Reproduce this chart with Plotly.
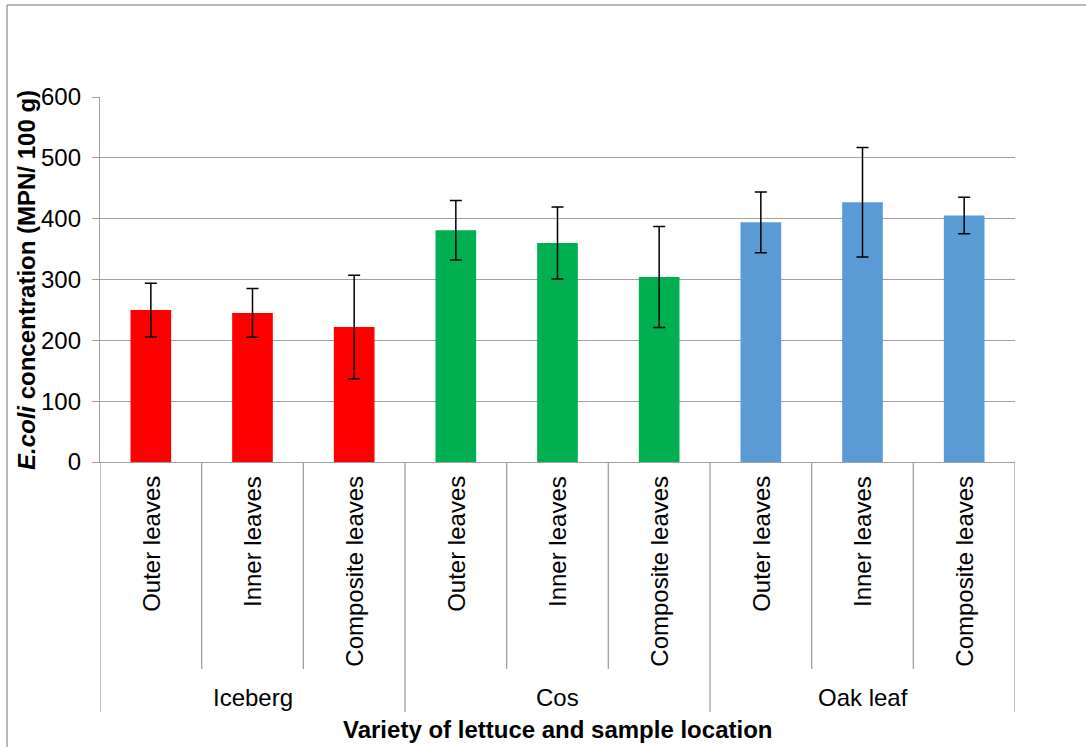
import plotly.graph_objects as go

# ---- data ----
varieties = ["Iceberg", "Cos", "Oak leaf"]
locations = ["Outer leaves", "Inner leaves", "Composite leaves"]
iceberg_means = [250, 245, 222]
iceberg_err = [44, 40, 85]
cos_means = [381, 360, 304]
cos_err = [49, 59, 83]
oak_means = [394, 427, 405]
oak_err = [50, 90, 30]
y_ticks = [0, 100, 200, 300, 400, 500, 600]

# ---- styles ----
variety_colors = {"Iceberg": "#FF0000", "Cos": "#00B050", "Oak leaf": "#5B9BD5"}
GRID = "#A0A0A0"
FONT = "Liberation Sans, Arial, sans-serif"
FS = 24

# plot area in pixels
W, H = 1086, 747
L, R, T, B = 100, 1015, 97, 462


def px_x(px):
    return (px - L) / (R - L)


def px_y(py):
    return (B - py) / (B - T)


series = [iceberg_means, cos_means, oak_means]
errs = [iceberg_err, cos_err, oak_err]

fig = go.Figure()
n_loc = len(locations)
for gi, (var, means, err) in enumerate(zip(varieties, series, errs)):
    xs = [gi * n_loc + li for li in range(n_loc)]
    fig.add_trace(go.Bar(
        x=xs, y=means, width=0.4,
        marker=dict(color=variety_colors[var], line=dict(width=0)),
        error_y=dict(type="data", array=err, visible=True, color="black",
                     thickness=1.5, width=6),
        showlegend=False, name=var,
    ))

n_total = len(varieties) * n_loc
annotations = []
shapes = []

# category labels
for gi, var in enumerate(varieties):
    for li, loc in enumerate(locations):
        xi = gi * n_loc + li
        annotations.append(dict(
            x=xi, xref="x", y=px_y(474), yref="paper", text=loc,
            textangle=-90, xanchor="center", yanchor="top", showarrow=False,
            font=dict(family=FONT, size=FS, color="black")))
    annotations.append(dict(
        x=gi * n_loc + (n_loc - 1) / 2, xref="x", y=px_y(697), yref="paper",
        text=var, xanchor="center", yanchor="middle", showarrow=False,
        font=dict(family=FONT, size=FS, color="black")))

# dividers
for k in range(n_total + 1):
    xb = k - 0.5
    long = (k % n_loc == 0)
    shapes.append(dict(type="line", xref="x", yref="paper", x0=xb, x1=xb,
                       y0=0, y1=px_y(712 if long else 669),
                       line=dict(color=GRID, width=1.3)))

# outer chart border (top & left)
shapes.append(dict(type="line", xref="paper", yref="paper",
                   x0=px_x(7), x1=px_x(1090), y0=px_y(5), y1=px_y(5),
                   line=dict(color=GRID, width=1.5)))
shapes.append(dict(type="line", xref="paper", yref="paper",
                   x0=px_x(7), x1=px_x(7), y0=px_y(5), y1=px_y(750),
                   line=dict(color=GRID, width=1.5)))

# axis titles
annotations.append(dict(
    x=px_x(26), xref="paper", y=px_y(280), yref="paper",
    text="<b><i>E.coli</i> concentration (MPN/ 100 g)</b>", textangle=-90,
    xanchor="center", yanchor="middle", showarrow=False,
    font=dict(family=FONT, size=FS, color="black")))
annotations.append(dict(
    x=px_x(557), xref="paper", y=px_y(729), yref="paper",
    text="<b>Variety of lettuce and sample location</b>",
    xanchor="center", yanchor="middle", showarrow=False,
    font=dict(family=FONT, size=FS, color="black")))

fig.update_layout(
    width=W, height=H,
    margin=dict(l=L, r=W - R, t=T, b=H - B, autoexpand=False),
    paper_bgcolor="white", plot_bgcolor="white",
    bargap=0.6,
    font=dict(family=FONT, size=FS, color="black"),
    xaxis=dict(range=[-0.5, n_total - 0.5], showticklabels=False,
               showgrid=False, zeroline=False, showline=True,
               linecolor=GRID, linewidth=1.3, ticks=""),
    yaxis=dict(range=[0, 600], tickvals=y_ticks, showgrid=True,
               gridcolor=GRID, gridwidth=1.3, zeroline=False,
               showline=True, linecolor=GRID, linewidth=1.3,
               ticks="outside", ticklen=7, tickcolor=GRID, tickwidth=1.3,
               ticklabelstandoff=6,
               tickfont=dict(family=FONT, size=FS, color="black")),
    annotations=annotations, shapes=shapes,
)

fig.write_html(
    "out.html",
    config={"displayModeBar": False},
    post_script="document.body.style.margin='0';document.body.style.overflow='hidden';",
)
